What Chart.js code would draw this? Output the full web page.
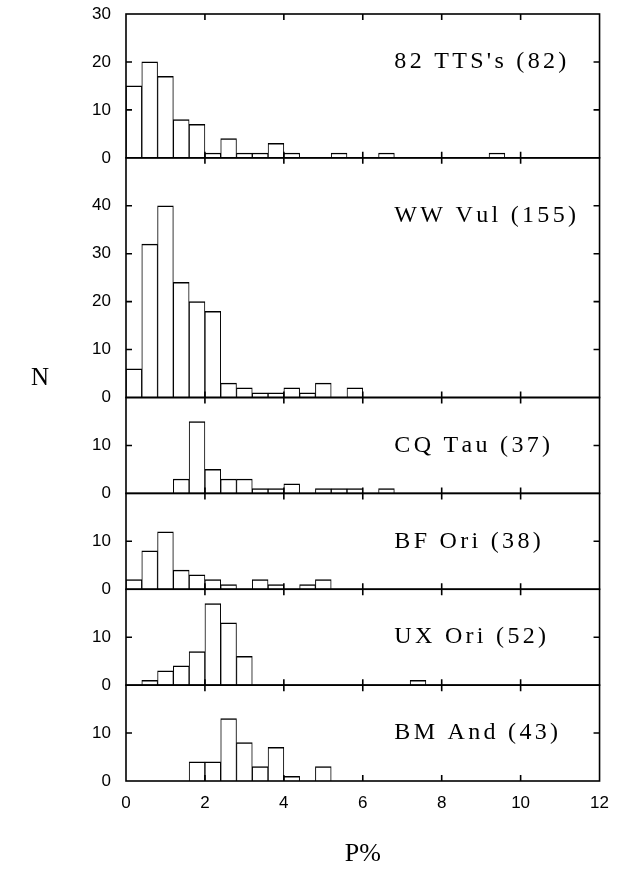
<!DOCTYPE html>
<html>
<head>
<meta charset="utf-8">
<script src="https://cdn.jsdelivr.net/npm/chart.js@4.4.1/dist/chart.umd.min.js"></script>
<style>
  html, body { margin: 0; padding: 0; background: #fff; }
  #wrap { width: 621px; height: 873px; }
</style>
</head>
<body>
<div id="wrap"><canvas id="hist"></canvas></div>
<script>
// P% bin centres, bins are 0.4 wide
const binCenters = [0.2, 0.6, 1.0, 1.4, 1.8, 2.2, 2.6, 3.0, 3.4, 3.8, 4.2, 4.6,
                    5.0, 5.4, 5.8, 6.2, 6.6, 7.0, 7.4, 7.8, 8.2, 8.6, 9.0, 9.4];

// counts per bin, top panel to bottom panel
const ttsCounts   = [15, 20, 17, 8, 7, 1, 4, 1, 1, 3, 1, 0, 0, 1, 0, 0, 1, 0, 0, 0, 0, 0, 0, 1];
const wwVulCounts = [6, 32, 40, 24, 20, 18, 3, 2, 1, 1, 2, 1, 3, 0, 2];
const cqTauCounts = [0, 0, 0, 3, 15, 5, 3, 3, 1, 1, 2, 0, 1, 1, 1, 0, 1];
const bfOriCounts = [2, 8, 12, 4, 3, 2, 1, 0, 2, 1, 0, 1, 2];
const uxOriCounts = [0, 1, 3, 4, 7, 17, 13, 6, 0, 0, 0, 0, 0, 0, 0, 0, 0, 0, 1];
const bmAndCounts = [0, 0, 0, 0, 4, 4, 13, 8, 3, 7, 1, 0, 3];

const panelCounts = [ttsCounts, wwVulCounts, cqTauCounts, bfOriCounts, uxOriCounts, bmAndCounts];
const panelNames = ["82 TTS's (82)", 'WW Vul (155)', 'CQ Tau (37)', 'BF Ori (38)', 'UX Ori (52)', 'BM And (43)'];
const panelMax = [30, 50, 20, 20, 20, 20];
const labelLevel = [20, 38, 10, 10, 10, 10];

const SANS = "'Liberation Sans', Arial, sans-serif";
const SERIF = "'Liberation Serif', 'Times New Roman', serif";

function spacedText(ctx, text, x, y, spacing) {
    for (const ch of text) {
        ctx.fillText(ch, x, y);
        x += ctx.measureText(ch).width + spacing;
    }
}

// frames, inward ticks and panel captions
const panelFrames = {
    id: 'panelFrames',
    afterDatasetsDraw(chart) {
        const {ctx, chartArea, scales} = chart;
        const xs = scales.x;
        ctx.save();
        ctx.strokeStyle = '#000';
        ctx.lineWidth = 1.6;
        panelNames.forEach((name, i) => {
            const ys = scales['y' + i];
            ctx.strokeRect(chartArea.left, ys.top, chartArea.right - chartArea.left, ys.bottom - ys.top);
            ctx.beginPath();
            xs.ticks.forEach(t => {
                if (t.value <= xs.min || t.value >= xs.max) return;
                const px = xs.getPixelForValue(t.value);
                ctx.moveTo(px, ys.top);
                ctx.lineTo(px, ys.top + 6);
                ctx.moveTo(px, ys.bottom);
                ctx.lineTo(px, ys.bottom - 6);
            });
            ys.ticks.forEach(t => {
                if (t.value <= ys.min || t.value >= ys.max) return;
                const py = ys.getPixelForValue(t.value);
                ctx.moveTo(chartArea.left, py);
                ctx.lineTo(chartArea.left + 6, py);
                ctx.moveTo(chartArea.right, py);
                ctx.lineTo(chartArea.right - 6, py);
            });
            ctx.stroke();

            ctx.fillStyle = '#000';
            ctx.font = '24px ' + SERIF;
            ctx.textBaseline = 'middle';
            ctx.textAlign = 'left';
            spacedText(ctx, name, xs.getPixelForValue(6.8), ys.getPixelForValue(labelLevel[i]), 3.3);
        });

        // y axis name
        ctx.font = '25px ' + SERIF;
        ctx.textAlign = 'center';
        ctx.fillText('N', 40, scales.y1.getPixelForValue(4));
        ctx.restore();
    }
};

const datasets = panelCounts.map((counts, i) => ({
    label: panelNames[i],
    data: counts.map((c, k) => ({x: binCenters[k], y: c})),
    xAxisID: 'x',
    yAxisID: 'y' + i,
    grouped: false,
    backgroundColor: '#fff',
    borderColor: '#000',
    borderWidth: {top: 1.5, left: 1, right: 1, bottom: 0},
    borderSkipped: 'bottom',
    barPercentage: 1,
    categoryPercentage: 1
}));

const scales = {
    x: {
        type: 'linear',
        position: 'bottom',
        min: 0,
        max: 12,
        offset: false,
        grid: {display: false, drawTicks: false, offset: false},
        border: {display: false},
        ticks: {
            stepSize: 2,
            autoSkip: false,
            maxRotation: 0,
            padding: 12,
            color: '#000',
            font: {family: SANS, size: 17}
        },
        title: {
            display: true,
            text: 'P%',
            color: '#000',
            font: {family: SERIF, size: 26},
            padding: {top: 0, bottom: 3}
        },
        afterFit: s => { s.height = 92; }
    }
};

panelNames.forEach((name, i) => {
    scales['y' + i] = {
        type: 'linear',
        position: 'left',
        stack: 'panels',
        stackWeight: panelMax[i],
        weight: panelNames.length - i,
        min: 0,
        max: panelMax[i],
        grid: {display: false, drawTicks: false},
        border: {display: false},
        ticks: {
            stepSize: 10,
            padding: 15,
            color: '#000',
            font: {family: SANS, size: 17},
            callback: v => (i > 0 && v === panelMax[i]) ? '' : v
        },
        afterFit: s => {
            s.width = 126;
            s.paddingTop = 0;
            s.paddingBottom = 0;
        }
    };
});

new Chart(document.getElementById('hist'), {
    type: 'bar',
    data: {datasets: datasets},
    options: {
        responsive: true,
        maintainAspectRatio: false,
        animation: false,
        layout: {padding: {top: 14, right: 10, bottom: 0, left: 0}},
        plugins: {
            legend: {display: false},
            tooltip: {enabled: false}
        },
        scales: scales
    },
    plugins: [panelFrames]
});
</script>
</body>
</html>
